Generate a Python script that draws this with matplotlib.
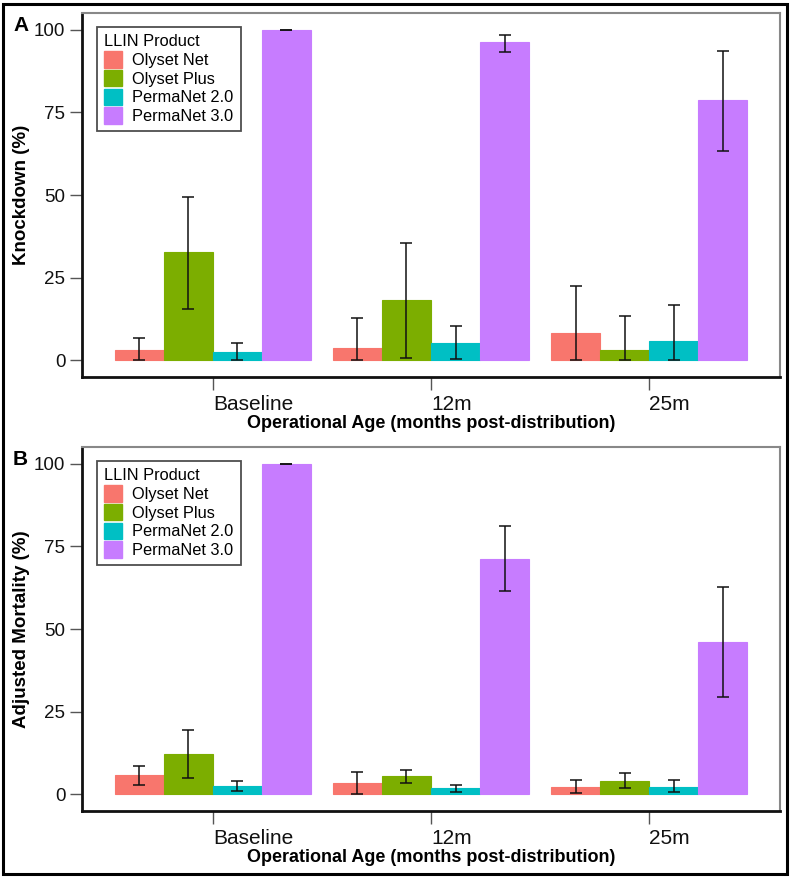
import matplotlib
matplotlib.use("Agg")
import matplotlib.pyplot as plt
from matplotlib.patches import Patch, Rectangle
import numpy as np

plt.rcParams['font.family'] = ['Liberation Sans', 'DejaVu Sans']

ages = ["Baseline", "12m", "25m"]
products = ["Olyset Net", "Olyset Plus", "PermaNet 2.0", "PermaNet 3.0"]
colors = ["#F8766D", "#7CAE00", "#00BFC4", "#C77CFF"]

# Panel A: Knockdown (%) -- rows = products, cols = ages
kd_mean = [[3.2, 3.8, 8.2],
           [32.7, 18.2, 3.2],
           [2.6, 5.3, 5.8],
           [100.0, 96.1, 78.6]]
kd_low = [[0.0, 0.0, 0.0],
          [15.6, 0.8, 0.0],
          [0.0, 0.3, 0.0],
          [100.0, 93.3, 63.4]]
kd_high = [[6.8, 12.7, 22.6],
           [49.4, 35.5, 13.4],
           [5.4, 10.3, 16.9],
           [100.0, 98.5, 93.6]]

# Panel B: Adjusted Mortality (%)
mo_mean = [[5.8, 3.5, 2.4],
           [12.1, 5.5, 4.0],
           [2.6, 2.0, 2.4],
           [100.0, 71.2, 46.1]]
mo_low = [[2.9, 0.1, 0.3],
          [5.1, 3.5, 1.8],
          [0.9, 0.6, 0.6],
          [100.0, 61.5, 29.6]]
mo_high = [[8.5, 6.7, 4.4],
           [19.4, 7.4, 6.4],
           [4.0, 2.9, 4.4],
           [100.0, 81.1, 62.6]]

W, H = 790, 877
fig = plt.figure(figsize=(W / 100, H / 100), dpi=100)

def make_panel(rect, mean, low, high, ylabel, letter):
    ax = fig.add_axes(rect)
    x = np.arange(1, len(ages) + 1)
    bw = 0.9 / len(products)
    for i, (prod, col) in enumerate(zip(products, colors)):
        pos = x - 0.45 + bw * (i + 0.5)
        m = np.array(mean[i]); lo = np.array(low[i]); hi = np.array(high[i])
        ax.bar(pos, m, width=bw, color=col, edgecolor=col, linewidth=0.8, zorder=2)
        ax.errorbar(pos, m, yerr=[m - lo, hi - m], fmt='none', ecolor='#111111',
                    elinewidth=1.1, capsize=4.5, capthick=1.1, zorder=3)
    ax.set_xlim(0.4, 3.6)
    ax.set_ylim(-5, 105)
    ax.set_yticks([0, 25, 50, 75, 100])
    ax.set_yticklabels(["0", "25", "50", "75", "100"], fontsize=13.5)
    ax.set_xticks(x)
    ax.set_xticklabels(ages, fontsize=15, ha='left')
    ax.tick_params(axis='both', colors='#555555', length=9, width=1.0)
    for lab in ax.get_xticklabels() + ax.get_yticklabels():
        lab.set_color('#111111')
    ax.tick_params(axis='y', pad=3)
    ax.tick_params(axis='x', pad=4)
    for s in ['left', 'bottom']:
        ax.spines[s].set_color('#111111')
        ax.spines[s].set_linewidth(2.0)
    for s in ['top', 'right']:
        ax.spines[s].set_color('#888888')
        ax.spines[s].set_linewidth(1.5)
    ax.set_xlabel("Operational Age (months post-distribution)", fontsize=13,
                  fontweight='bold', labelpad=1)
    ax.set_ylabel(ylabel, fontsize=13.5, fontweight='bold', labelpad=3)
    handles = [Patch(facecolor=c, edgecolor=c, label=p) for p, c in zip(products, colors)]
    leg = ax.legend(handles=handles, title="LLIN Product", loc='upper left',
                    bbox_to_anchor=(15 / 698, 350 / 364), borderaxespad=0,
                    fontsize=11.8, title_fontsize=11.8,
                    frameon=True, fancybox=False, edgecolor='#222222',
                    handlelength=1.1, handleheight=1.15, handletextpad=0.6,
                    labelspacing=0.12, borderpad=0.45)
    leg.get_frame().set_linewidth(1.3)
    leg._legend_box.align = "left"
    bbox = ax.get_position()
    fig.text(13 / W, bbox.y1 - 3 / H, letter, fontsize=15,
             fontweight='bold', ha='left', va='top')
    return ax

axA = make_panel([82 / W, 1 - 377 / H, 698 / W, 364 / H], kd_mean, kd_low, kd_high,
                 "Knockdown (%)", "A")
axB = make_panel([82 / W, 1 - 811 / H, 698 / W, 364 / H], mo_mean, mo_low, mo_high,
                 "Adjusted Mortality (%)", "B")

fig.patches.append(Rectangle((3 / W, 3 / H), (W - 6) / W, (H - 7) / H, transform=fig.transFigure,
                             fill=False, edgecolor='black', linewidth=2.2))

fig.savefig("out.png", dpi=100)
